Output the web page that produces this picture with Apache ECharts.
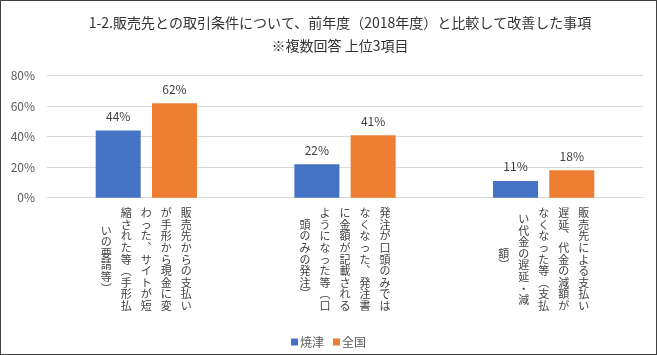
<!DOCTYPE html>
<html>
<head>
<meta charset="utf-8">
<script src="https://cdn.jsdelivr.net/npm/echarts@6/dist/echarts.min.js"></script>
<style>
html,body{margin:0;padding:0;background:#fff;}
#wrap{width:657px;height:355px;box-sizing:border-box;border:1px solid #404040;position:relative;overflow:hidden;}
#chart{position:absolute;left:-1px;top:-1px;width:657px;height:355px;}
</style>
</head>
<body>
<div id="wrap"><div id="chart"></div></div>
<script>
var titleText = '1-2.販売先との取引条件について、前年度（2018年度）と比較して改善した事項';
var subtitleText = '※複数回答 上位3項目';
// category labels, as the vertical columns they are written in (right to left)
var categoryColumns = [
  ['販売先からの支払い', 'が手形から現金に変', 'わった、サイトが短', '縮された等（手形払', 'いの要請等）'],
  ['発注が口頭のみでは', 'なくなった、発注書', 'に金額が記載される', 'ようになった等（口', '頭のみの発注）'],
  ['販売先による支払い', '遅延、代金の減額が', 'なくなった等（支払', 'い代金の遅延・減', '額）']
];
var categories = categoryColumns.map(function (c) { return c.join(''); });
var seriesNames = ['焼津', '全国'];
var yaizuValues = [44, 22, 11];
var zenkokuValues = [62, 41, 18];
var yTicks = [0, 20, 40, 60, 80];

var FONT = '"Noto Sans CJK JP", "Noto Sans", sans-serif';
var chart = echarts.init(document.getElementById('chart'), null, {renderer: 'canvas'});

var labelStyle = {show: true, position: 'top', distance: 8, formatter: '{c}%', color: '#404040', fontSize: 12, fontFamily: FONT};

chart.setOption({
  animation: false,
  backgroundColor: '#fff',
  title: [
    {text: titleText, left: 335, top: 11, textAlign: 'center',
     textStyle: {fontSize: 14, fontWeight: 'normal', color: '#333', fontFamily: FONT}},
    {text: subtitleText, left: 335, top: 34, textAlign: 'center',
     textStyle: {fontSize: 14, fontWeight: 'normal', color: '#333', fontFamily: FONT}}
  ],
  legend: {
    data: seriesNames, top: 331, left: 'center', icon: 'rect', itemWidth: 7, itemHeight: 7, itemGap: 9,
    textStyle: {fontSize: 12, color: '#595959', fontFamily: FONT, padding: [0, 0, 0, -3]}
  },
  grid: {left: 47, right: 14, top: 75.7, bottom: 157.3, containLabel: false},
  xAxis: {
    type: 'category', data: categories,
    axisLine: {show: true, lineStyle: {color: '#d9d9d9'}},
    axisTick: {show: false},
    axisLabel: {show: false}
  },
  yAxis: {
    type: 'value', min: yTicks[0], max: yTicks[yTicks.length - 1], interval: 20,
    axisLine: {show: false}, axisTick: {show: false},
    splitLine: {lineStyle: {color: '#d9d9d9'}},
    axisLabel: {formatter: '{value}%', color: '#595959', fontSize: 12, fontFamily: FONT, margin: 12}
  },
  series: [
    {name: seriesNames[0], type: 'bar', data: yaizuValues, barWidth: 45, barGap: '25%',
     itemStyle: {color: '#4472C4'}, label: labelStyle},
    {name: seriesNames[1], type: 'bar', data: zenkokuValues, barWidth: 45, barGap: '25%',
     itemStyle: {color: '#ED7D31'}, label: labelStyle}
  ]
});

// vertical writing: glyph substitutions for vertical presentation forms
var vmap = {'、': '︑', '（': '︵', '）': '︶'};
var graphics = [];
var colGap = 20, pitch = 11.6, centerY = 259.5;
categories.forEach(function (cat, i) {
  var cx = chart.convertToPixel({xAxisIndex: 0}, cat);
  var cols = categoryColumns[i];
  var n = cols.length;
  cols.forEach(function (col, j) {
    var chars = col.split('').map(function (ch) { return vmap[ch] || ch; });
    graphics.push({
      type: 'text',
      x: cx + ((n - 1) / 2 - j) * colGap,
      y: centerY,
      style: {
        text: chars.join('\n'),
        align: 'center', verticalAlign: 'middle',
        lineHeight: pitch,
        font: '11px ' + FONT,
        fill: '#404040'
      }
    });
  });
});
chart.setOption({graphic: graphics});
</script>
</body>
</html>
